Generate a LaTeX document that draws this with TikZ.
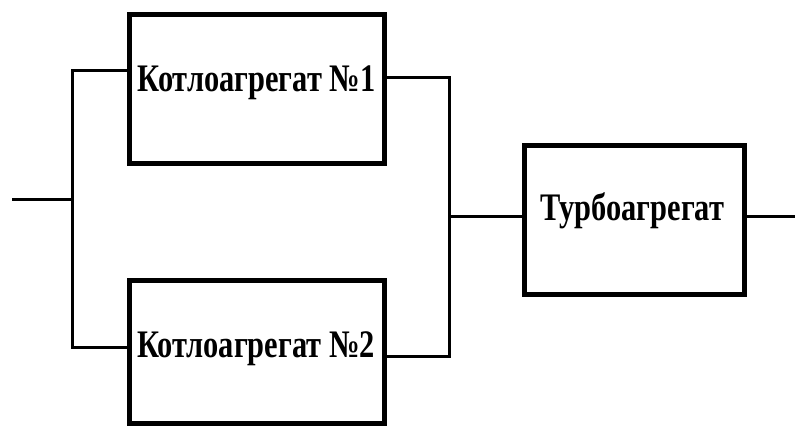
\documentclass[tikz,border=0pt]{standalone}
\usepackage{fontspec}
\newfontfamily\blockfont[FakeStretch=0.78]{Liberation Serif Bold}
\begin{document}
\begin{tikzpicture}[x=1pt,y=-1pt,
  unit/.style={draw,line width=5pt,minimum width=255pt,minimum height=149pt,inner sep=0pt},
  label/.style={font=\blockfont\fontsize{39pt}{39pt}\selectfont,inner sep=0pt,anchor=base},
  wire/.style={line width=3pt}]
\useasboundingbox (0,0) rectangle (795,426);
% boiler and turbine blocks
\node[unit] (boiler1) at (257,89) {};
\node[unit,minimum height=143.5pt] (boiler2) at (257,351.75) {};
\node[unit,minimum width=220pt] (turbine) at (634.5,220) {};
\node[label] (t1) at (256.5,91.5) {Котлоагрегат №1};
\node[label] (t2) at (256,357) {Котлоагрегат №2};
\node[label] (t3) at (632.5,220) {Турбоагрегат};
% junction points of the parallel branch
\coordinate (in) at (12,199);
\coordinate (splitmid) at (72,199);
\coordinate (split1) at (72,70);
\coordinate (split2) at (72,347);
\coordinate (join1) at (449,77);
\coordinate (join2) at (449,356);
\coordinate (joinmid) at (449,216);
\coordinate (out) at (795,216);
% connectors
\draw[wire] (in) -- (splitmid);
\draw[wire] (boiler1.west |- split1) -- (split1) -- (split2) -- (boiler2.west |- split2);
\draw[wire] (boiler1.east |- join1) -- (join1) -- (join2) -- (boiler2.east |- join2);
\draw[wire] (joinmid) -- (turbine.west |- joinmid);
\draw[wire] (turbine.east |- out) -- (out);
\end{tikzpicture}
\end{document}
